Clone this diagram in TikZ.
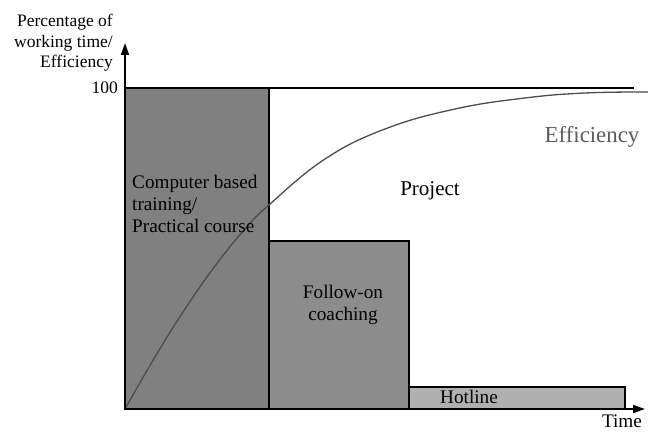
\documentclass[tikz,border=0pt]{standalone}
\usepackage{fontspec}
\setmainfont{Liberation Serif}
\usetikzlibrary{arrows.meta}

\definecolor{barcbt}{gray}{0.50}
\definecolor{barfollow}{gray}{0.55}
\definecolor{barhot}{gray}{0.69}
\definecolor{curvegray}{gray}{0.30}
\definecolor{effgray}{gray}{0.36}

\begin{document}
\begin{tikzpicture}[x=1pt,y=1pt]
		\tikzstyle{every path}=[line join=miter]
		
		\tikzstyle{axis}=[line width=1.6pt,-{Triangle[length=12pt,width=8pt]}]
		\tikzstyle{bar}=[draw=black,line width=1.3pt]
		\tikzstyle{axlabel}=[inner sep=0pt,font=\fontsize{17.5}{20.5}\selectfont]
		\tikzstyle{barlabel}=[inner sep=0pt,font=\fontsize{19.2}{22}\selectfont]
		
		\useasboundingbox (-125,-23) rectangle (523,409);
		
		%% Bars
		\coordinate (origin) at (0,0);
		\filldraw [bar,fill=barcbt] (origin) rectangle (144,321);
		\filldraw [bar,fill=barfollow] (144,0) rectangle (284,168);
		\filldraw [bar,fill=barhot] (284,0) rectangle (500,22);
		
		%% 100 percent line
		\coordinate (full) at (0,321);
		\coordinate (fullend) at (509,321);
		\draw [line width=1.3pt] (full) -- (fullend);
		
		%% Efficiency curve
		\draw [curvegray,line width=1.3pt] plot [smooth,tension=0.7] coordinates
		{(0,0) (30,52) (60,100) (90,143) (120,180) (145,205) (200,250)
		(260,280) (330,300) (400,311) (460,316) (523,317)};
		
		%% Axes
		\coordinate (ytop) at (0,366);
		\coordinate (xend) at (520,0);
		\draw [axis] (origin) -- (ytop);
		\draw [axis] (origin) -- (xend);
		
		%% Labels
		\node [axlabel,anchor=east] (hundred) at (-7,321) {100};
		\node [axlabel,anchor=east,align=right] (ylabel) at (-12,366)
		{Percentage of\\working time/\\Efficiency};
		\node [barlabel,anchor=base] (time) at (497,-18.5) {Time};
		
		\node [barlabel,anchor=north west,align=left] (cbt) at (7,234)
		{Computer based\\training/\\Practical course};
		\node [barlabel,align=center] (follow) at (218,104) {Follow-on\\coaching};
		\node [barlabel,anchor=base] (hotline) at (344,6) {Hotline};
		\node [inner sep=0pt,anchor=base,font=\fontsize{21}{24}\selectfont] (project) at (305,214) {Project};
		\node [inner sep=0pt,anchor=base,text=effgray,font=\fontsize{22.8}{26}\selectfont] (eff) at (467,267) {Efficiency};
		
\end{tikzpicture}
\end{document}
